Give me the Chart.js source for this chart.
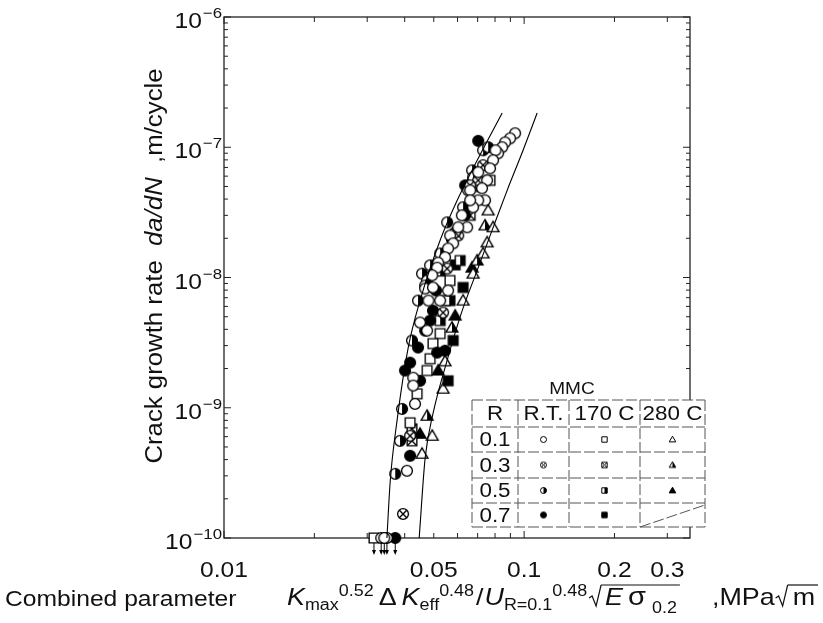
<!DOCTYPE html>
<html lang="en">
<head>
<meta charset="UTF-8">
<title>Crack growth rate vs combined parameter (MMC)</title>
<script src="https://cdn.jsdelivr.net/npm/chart.js"></script>
<style>
  body { margin: 0; background: #fff; }
  canvas { display: block; }
</style>
</head>
<body>
<canvas id="chart" width="823" height="623"></canvas>
<script>
// axis ranges and tick labels
const xMin = 0.01, xMax = 0.357;
const yMin = 1e-10, yMax = 1e-6;
const xTickValues = [0.01, 0.05, 0.1, 0.2, 0.3];
const xTickLabels = ['0.01', '0.05', '0.1', '0.2', '0.3'];
const yTickValues = [1e-10, 1e-9, 1e-8, 1e-7, 1e-6];
const yTickExponents = ['\u221210', '\u22129', '\u22128', '\u22127', '\u22126'];

// legend table
const tempLabels = ['R.T.', '170 C', '280 C'];
const ratioLabels = ['0.1', '0.3', '0.5', '0.7'];

// R.T. series (R = 0.1, 0.3, 0.5, 0.7)
const rt01X = [0.0933, 0.0898, 0.0864, 0.0845, 0.0819, 0.0803, 0.0788, 0.0770, 0.0753, 0.0703, 0.0724, 0.0741, 0.0703, 0.0676, 0.0661, 0.0661, 0.0620, 0.0646, 0.0603, 0.0567, 0.0580, 0.0558, 0.0545, 0.0517, 0.0513, 0.0494, 0.0468, 0.0497, 0.0558, 0.0480, 0.0525, 0.0450, 0.0475, 0.0427, 0.0427, 0.0433, 0.0407, 0.0349, 0.0342];
const rt01Y = [1.28e-7, 1.17e-7, 1.09e-7, 1.0e-7, 8.99e-8, 9.48e-8, 7.94e-8, 6.89e-8, 5.57e-8, 6.43e-8, 4.84e-8, 3.91e-8, 3.91e-8, 3.46e-8, 4.67e-8, 3.91e-8, 3.0e-8, 2.43e-8, 2.43e-8, 2.1e-8, 1.83e-8, 1.67e-8, 1.43e-8, 1.30e-8, 1.19e-8, 1.04e-8, 8.23e-9, 8.38e-9, 7.94e-9, 6.65e-9, 6.65e-9, 4.51e-9, 3.91e-9, 1.70e-9, 1.48e-9, 1.07e-9, 3.28e-10, 1e-10, 1e-10];
const rt03X = [0.0730, 0.0703, 0.0661, 0.0603, 0.0589, 0.0554, 0.0537, 0.0417, 0.0395];
const rt03Y = [7.28e-8, 5.57e-8, 5.1e-8, 2.1e-8, 2.22e-8, 1.17e-8, 5.38e-9, 6.09e-10, 1.53e-10];
const rt05X = [0.0730, 0.0759, 0.0671, 0.0676, 0.0651, 0.0626, 0.0636, 0.0554, 0.0525, 0.0486, 0.0457, 0.0475, 0.0468, 0.0443, 0.0423, 0.0392, 0.0386, 0.0372, 0.0334];
const rt05Y = [9.48e-8, 1.0e-7, 6.65e-8, 5.88e-8, 4.67e-8, 3.46e-8, 3.0e-8, 2.65e-8, 1.53e-8, 1.24e-8, 1.07e-8, 9.48e-9, 8.68e-9, 6.65e-9, 3.28e-9, 9.8e-10, 5.57e-10, 3.11e-10, 1e-10];
const rt07X = [0.0703, 0.0636, 0.0575, 0.0509, 0.0486, 0.0497, 0.0468, 0.0443, 0.0513, 0.0545, 0.0417, 0.0401, 0.0450, 0.0417, 0.0372];
const rt07Y = [1.12e-7, 5.1e-8, 1.95e-8, 7.94e-9, 4.67e-9, 5.57e-9, 3.91e-9, 2.9e-9, 2.65e-9, 2.74e-9, 2.22e-9, 1.93e-9, 1.61e-9, 4.28e-10, 1e-10];

// 170 C series
const t170r01X = [0.0770, 0.0566, 0.0545, 0.0525, 0.0497, 0.0486, 0.0475, 0.0440, 0.0417, 0.0316];
const t170r01Y = [5.57e-8, 9.48e-9, 6.65e-9, 3.71e-9, 3.11e-9, 2.38e-9, 1.93e-9, 1.28e-9, 7.67e-10, 1e-10];
const t170r03X = [0.0714, 0.0661, 0.0423, 0.0423];
const t170r03Y = [5.0e-8, 3.0e-8, 6.89e-10, 5.57e-10];
const t170r05X = [0.0612, 0.0566, 0.0525, 0.0525];
const t170r05Y = [1.35e-8, 6.65e-9, 1.12e-8, 4.67e-9];
const t170r07X = [0.0626, 0.0580, 0.0558, 0.0589];
const t170r07Y = [8.38e-9, 3.28e-9, 1.61e-9, 1.25e-8];

// 280 C series
const t280r01X = [0.0788, 0.0759, 0.0753, 0.0730, 0.0676, 0.0626, 0.0545, 0.0537, 0.0494, 0.0457];
const t280r01Y = [2.43e-8, 3.27e-8, 1.86e-8, 1.53e-8, 1.07e-8, 6.65e-9, 2.27e-9, 1.40e-9, 6.09e-10, 4.43e-10];
const t280r03X = [0.0741, 0.0697, 0.0575, 0.0475];
const t280r03Y = [2.51e-8, 1.35e-8, 4.12e-9, 8.68e-10];
const t280r05X = [0.0671, 0.0589, 0.0517, 0.0450];
const t280r05Y = [1.19e-8, 5.1e-9, 1.93e-9, 6.31e-10];

// scatter band bounds
const leftCurveX = [0.0349, 0.0358, 0.0377, 0.0411, 0.0450, 0.0525, 0.0598, 0.0697, 0.0845];
const leftCurveY = [1e-10, 2.74e-10, 7.9e-10, 2.9e-9, 6.65e-9, 1.93e-8, 3.9e-8, 7.9e-8, 1.83e-7];
const rightCurveX = [0.0447, 0.0468, 0.0497, 0.0550, 0.0617, 0.0697, 0.0782, 0.0878, 0.0992, 0.1105];
const rightCurveY = [1e-10, 4.12e-10, 9.0e-10, 2.18e-9, 5.28e-9, 1.13e-8, 2.30e-8, 4.67e-8, 9.48e-8, 1.83e-7];

const FONT = '"Liberation Sans", Arial, Helvetica, sans-serif';
const SX = 1.12; // the scanned lettering is a little wider than Arial

// marker images: shape circle/square/triangle, fill open/cross/half/full
function makeMarker(shape, fill, r) {
  const s = Math.ceil(r * 2 + 5);
  const c = document.createElement('canvas');
  c.width = s; c.height = s;
  const g = c.getContext('2d');
  const m = s / 2;
  g.lineWidth = r > 4 ? 1.35 : 1;
  g.strokeStyle = '#000';
  function path() {
    g.beginPath();
    if (shape === 'circle') g.arc(m, m, r, 0, Math.PI * 2);
    else if (shape === 'square') g.rect(m - r * 0.9, m - r * 0.9, r * 1.8, r * 1.8);
    else { g.moveTo(m, m - r * 1.1); g.lineTo(m + r * 1.1, m + r * 0.8); g.lineTo(m - r * 1.1, m + r * 0.8); g.closePath(); }
  }
  path();
  g.fillStyle = fill === 'full' ? '#000' : '#fff';
  g.fill();
  if (fill === 'half' || fill === 'cross') {
    g.save();
    path();
    g.clip();
    if (fill === 'half') {
      g.fillStyle = '#000';
      g.fillRect(m, 0, s, s);
    } else {
      g.beginPath();
      g.moveTo(m - r, m - r); g.lineTo(m + r, m + r);
      g.moveTo(m + r, m - r); g.lineTo(m - r, m + r);
      g.stroke();
    }
    g.restore();
  }
  path();
  g.stroke();
  return c;
}

const styles = [
  ['circle', 'open'], ['circle', 'cross'], ['circle', 'half'], ['circle', 'full'],
  ['square', 'open'], ['square', 'cross'], ['square', 'half'], ['square', 'full'],
  ['triangle', 'open'], ['triangle', 'half'], ['triangle', 'full']
];
const seriesX = [rt01X, rt03X, rt05X, rt07X, t170r01X, t170r03X, t170r05X, t170r07X, t280r01X, t280r03X, t280r05X];
const seriesY = [rt01Y, rt03Y, rt05Y, rt07Y, t170r01Y, t170r03Y, t170r05Y, t170r07Y, t280r01Y, t280r03Y, t280r05Y];

function pairs(xs, ys) { return xs.map((x, i) => ({ x: x, y: ys[i] })); }

const datasets = [];
[[leftCurveX, leftCurveY], [rightCurveX, rightCurveY]].forEach(function (cv) {
  datasets.push({
    data: pairs(cv[0], cv[1]),
    showLine: true, borderColor: '#000', borderWidth: 1.1,
    pointRadius: 0, cubicInterpolationMode: 'monotone', clip: false
  });
});
seriesX.forEach(function (xs, i) {
  datasets.push({
    data: pairs(xs, seriesY[i]),
    pointStyle: makeMarker(styles[i][0], styles[i][1], 5.4),
    pointRadius: 5, clip: false, isMarker: true
  });
});

function line(ctx, x1, y1, x2, y2) {
  ctx.beginPath(); ctx.moveTo(x1, y1); ctx.lineTo(x2, y2); ctx.stroke();
}

// text stretched horizontally by SX, returns drawn width
function txt(ctx, t, x, y, align) {
  const w = ctx.measureText(t).width * SX;
  const x0 = align === 'center' ? x - w / 2 : align === 'right' ? x - w : x;
  ctx.save();
  ctx.translate(x0, y);
  ctx.scale(SX, 1);
  ctx.textAlign = 'left';
  ctx.fillText(t, 0, 0);
  ctx.restore();
  return w;
}

function setFont(ctx, size, italic) {
  ctx.font = (italic ? 'italic ' : '') + size + 'px ' + FONT;
}

// frame with inward log ticks on all four sides
const framePlugin = {
  id: 'frame',
  beforeDatasetsDraw(chart) {
    const { ctx, chartArea: a, scales: { x, y } } = chart;
    ctx.save();
    ctx.strokeStyle = '#222';
    ctx.lineWidth = 1.3;
    ctx.strokeRect(a.left, a.top, a.right - a.left, a.bottom - a.top);
    ctx.lineWidth = 1;
    for (let d = -10; d <= -6; d++) {
      for (let k = 1; k <= 9; k++) {
        const v = k * Math.pow(10, d);
        if (v < yMin * 0.999 || v > yMax * 1.001) continue;
        const py = y.getPixelForValue(v), len = k === 1 ? 7 : 4;
        line(ctx, a.left, py, a.left + len, py);
        line(ctx, a.right, py, a.right - len, py);
      }
    }
    for (let d = -2; d <= -1; d++) {
      for (let k = 1; k <= 9; k++) {
        const v = k * Math.pow(10, d);
        if (v < xMin * 0.999 || v > xMax) continue;
        const px = x.getPixelForValue(v), len = k === 1 ? 7 : 5;
        line(ctx, px, a.bottom, px, a.bottom - len);
        line(ctx, px, a.top, px, a.top + len);
      }
    }
    ctx.restore();
  },
  // arrows under points sitting on the lower limit
  afterDatasetsDraw(chart) {
    const { ctx, chartArea: a, scales: { x } } = chart;
    ctx.save();
    ctx.strokeStyle = '#000';
    ctx.fillStyle = '#000';
    ctx.lineWidth = 1;
    chart.data.datasets.forEach(function (ds) {
      if (!ds.isMarker) return;
      ds.data.forEach(function (p) {
        if (p.y > yMin * 1.001) return;
        const px = x.getPixelForValue(p.x);
        line(ctx, px, a.bottom + 5, px, a.bottom + 15);
        ctx.beginPath();
        ctx.moveTo(px - 2, a.bottom + 12); ctx.lineTo(px + 2, a.bottom + 12); ctx.lineTo(px, a.bottom + 17);
        ctx.closePath(); ctx.fill();
      });
    });
    ctx.restore();
  }
};

// pieces of the x axis formula: text, size, italic, baseline shift, gap after
const formula = [
  ['K', 24, true, 0, 0], ['max', 16, false, 5, 0], ['0.52', 16, false, -9, 5],
  ['\u0394', 24, false, 0, 5], ['K', 24, true, 0, 0], ['eff', 16, false, 5, 0],
  ['0.48', 16, false, -9, 2], ['/', 24, false, 0, 1], ['U', 24, true, 0, 0],
  ['R=0.1', 16, false, 5, 0], ['0.48', 16, false, -9, 2], ['RAD', 0, false, 0, 2],
  ['E', 24, true, 0, 5], ['\u03c3', 26, false, 0, 6], ['0.2', 16, false, 8, 0], ['END', 0, false, 0, 32],
  [',MPa', 24, false, 0, 1], ['RAD', 0, false, 0, 3], ['m', 24, false, 0, 0], ['END', 0, false, 0, 0]
];

const labelPlugin = {
  id: 'labels',
  afterDraw(chart) {
    const { ctx, chartArea: a, scales: { x, y } } = chart;
    ctx.save();
    ctx.fillStyle = '#111';
    ctx.strokeStyle = '#111';
    ctx.lineWidth = 1.2;
    ctx.textBaseline = 'alphabetic';

    // x tick labels
    setFont(ctx, 22);
    xTickValues.forEach(function (v, i) {
      txt(ctx, xTickLabels[i], x.getPixelForValue(v), 577, 'center');
    });

    // y tick labels 10^n
    yTickValues.forEach(function (v, i) {
      const py = y.getPixelForValue(v);
      setFont(ctx, 15);
      const ew = txt(ctx, yTickExponents[i], a.left - 2, py + 1, 'right');
      setFont(ctx, 22);
      txt(ctx, '10', a.left - 3 - ew, py + 11, 'right');
    });

    // x axis title
    setFont(ctx, 22);
    txt(ctx, 'Combined parameter', 5, 606, 'left');
    const base = 605;
    let fx = 287, barStart = 0;
    formula.forEach(function (r) {
      if (r[0] === 'RAD') {
        ctx.beginPath();
        ctx.moveTo(fx, base - 7); ctx.lineTo(fx + 3, base - 9);
        ctx.lineTo(fx + 7, base + 1); ctx.lineTo(fx + 12, base - 20);
        ctx.stroke();
        barStart = fx + 12;
        fx += 14;
      } else if (r[0] === 'END') {
        line(ctx, barStart, base - 20, fx + 3, base - 20);
        fx += 3;
      } else {
        setFont(ctx, r[1], r[2]);
        fx += txt(ctx, r[0], fx, base + r[3], 'left');
      }
      fx += r[4];
    });

    // y axis title, rotated
    ctx.save();
    ctx.translate(154, 266);
    ctx.rotate(-Math.PI / 2);
    const yRuns = [['Crack growth rate  ', false], ['da/dN', true], ['  ,m/cycle', false]];
    let total = 0;
    yRuns.forEach(function (r) { setFont(ctx, 23, r[1]); total += ctx.measureText(r[0]).width * SX; });
    let cx = -total / 2;
    yRuns.forEach(function (r) { setFont(ctx, 23, r[1]); cx += txt(ctx, r[0], cx, 8, 'left'); });
    ctx.restore();
    ctx.restore();
  }
};

// MMC legend table drawn over the lower right of the plot
const tablePlugin = {
  id: 'mmcTable',
  afterDraw(chart) {
    const ctx = chart.ctx;
    const colX = [472, 518, 569, 640, 705];
    const rowY = [400, 427, 452, 478, 503, 527];
    ctx.save();
    ctx.fillStyle = '#fff';
    ctx.fillRect(colX[0], rowY[0], colX[4] - colX[0], rowY[5] - rowY[0]);
    ctx.strokeStyle = '#555';
    ctx.lineWidth = 1;
    ctx.setLineDash([11, 3]);
    colX.forEach(function (cx) { line(ctx, cx, rowY[0], cx, rowY[5]); });
    rowY.forEach(function (ry) { line(ctx, colX[0], ry, colX[4], ry); });
    line(ctx, colX[3], rowY[5], colX[4], rowY[4] + 2);
    ctx.setLineDash([]);

    ctx.fillStyle = '#111';
    ctx.textBaseline = 'middle';
    setFont(ctx, 17);
    txt(ctx, 'MMC', 572, 389, 'center');
    setFont(ctx, 20);
    txt(ctx, 'R', (colX[0] + colX[1]) / 2, 414, 'center');
    tempLabels.forEach(function (t, i) {
      txt(ctx, t, (colX[i + 1] + colX[i + 2]) / 2, 414, 'center');
    });
    ratioLabels.forEach(function (t, j) {
      const cy = (rowY[j + 1] + rowY[j + 2]) / 2;
      setFont(ctx, 20);
      txt(ctx, t, (colX[0] + colX[1]) / 2, cy + 1, 'center');
      for (let i = 0; i < 3; i++) {
        const k = i * 4 + j;
        if (k >= styles.length || (i === 2 && j === 3)) continue;
        const img = makeMarker(styles[k][0], styles[k][1], 3);
        const cx = (colX[i + 1] + colX[i + 2]) / 2;
        ctx.drawImage(img, cx - img.width / 2, cy - img.height / 2);
      }
    });
    ctx.restore();
  }
};

new Chart(document.getElementById('chart'), {
  type: 'scatter',
  data: { datasets: datasets },
  options: {
    responsive: false,
    animation: false,
    layout: { padding: { left: 224, right: 133, top: 17, bottom: 85 } },
    plugins: { legend: { display: false }, tooltip: { enabled: false } },
    scales: {
      x: { type: 'logarithmic', min: xMin, max: xMax, display: false },
      y: { type: 'logarithmic', min: yMin, max: yMax, display: false }
    }
  },
  plugins: [framePlugin, labelPlugin, tablePlugin]
});
</script>
</body>
</html>
